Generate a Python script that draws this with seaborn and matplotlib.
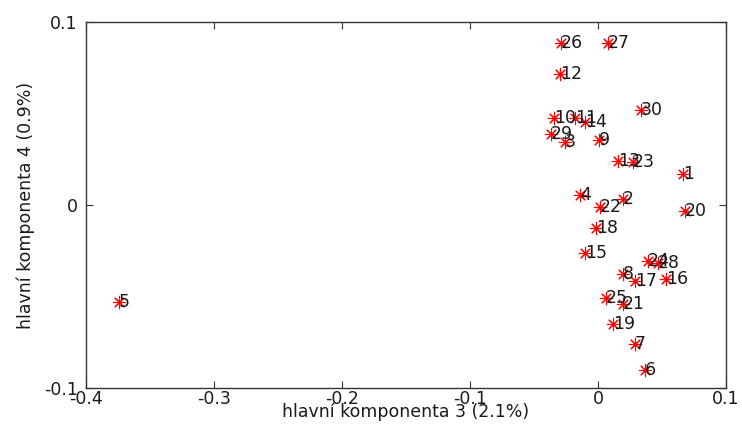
import matplotlib
matplotlib.use("Agg")
import matplotlib.pyplot as plt
import seaborn as sns
import pandas as pd

# Scores on principal components 3 and 4, one point per sample
sample_ids = [str(i) for i in range(1, 31)]
pc3 = [0.0663, 0.0195, -0.0257, -0.0140, -0.3744, 0.0367, 0.0289, 0.0195, 0.0008, -0.0343,
       -0.0180, -0.0296, 0.0156, -0.0101, -0.0101, 0.0530, 0.0289, -0.0016, 0.0117, 0.0679,
       0.0195, 0.0016, 0.0273, 0.0390, 0.0062, -0.0289, 0.0078, 0.0468, -0.0367, 0.0335]
pc4 = [0.0169, 0.0033, 0.0344, 0.0055, -0.0530, -0.0902, -0.0760, -0.0377, 0.0355, 0.0475,
       0.0475, 0.0716, 0.0240, 0.0454, -0.0262, -0.0404, -0.0415, -0.0126, -0.0650, -0.0033,
       -0.0541, -0.0011, 0.0235, -0.0306, -0.0508, 0.0885, 0.0885, -0.0317, 0.0388, 0.0519]

x_ticks = [-0.4, -0.3, -0.2, -0.1, 0.0, 0.1]
x_tick_labels = ["-0.4", "-0.3", "-0.2", "-0.1", "0", "0.1"]
y_ticks = [-0.1, 0.0, 0.1]
y_tick_labels = ["-0.1", "0", "0.1"]

x_label = "hlavní komponenta 3 (2.1%)"
y_label = "hlavní komponenta 4 (0.9%)"

df = pd.DataFrame({"id": sample_ids, "pc3": pc3, "pc4": pc4})

sns.set_theme(style="white")
plt.rcParams["font.family"] = ["DejaVu Sans"]
plt.rcParams["axes.unicode_minus"] = False

fig = plt.figure(figsize=(7.42, 4.30), dpi=100)
ax = fig.add_axes([86 / 742, 1 - 388 / 430, (726 - 86) / 742, (388 - 22) / 430])

sns.scatterplot(data=df, x="pc3", y="pc4", ax=ax, marker=(8, 2, 0),
                color="red", edgecolor="red", s=80, linewidth=0.8, legend=False)

for sid, xv, yv in zip(df["id"], df["pc3"], df["pc4"]):
    ax.text(xv, yv, sid, ha="left", va="center", fontsize=12.5, color="#1a1a1a")

ax.set_xlim(-0.4, 0.1)
ax.set_ylim(-0.1, 0.1)
ax.set_xticks(x_ticks)
ax.set_xticklabels(x_tick_labels)
ax.set_yticks(y_ticks)
ax.set_yticklabels(y_tick_labels)
ax.tick_params(direction="in", length=5, width=0.8, colors="#333333",
               labelcolor="#1a1a1a", labelsize=12.5, top=True, right=True,
               bottom=True, left=True)
ax.tick_params(axis="x", pad=1.5)
ax.tick_params(axis="y", pad=6)
for side in ax.spines.values():
    side.set_visible(True)
    side.set_color("#333333")
    side.set_linewidth(1.0)

ax.set_xlabel(x_label, fontsize=12.5, color="#1a1a1a", labelpad=-4)
ax.set_ylabel(y_label, fontsize=12.5, color="#1a1a1a", labelpad=6)

fig.savefig("out.png", dpi=100, facecolor="white")
